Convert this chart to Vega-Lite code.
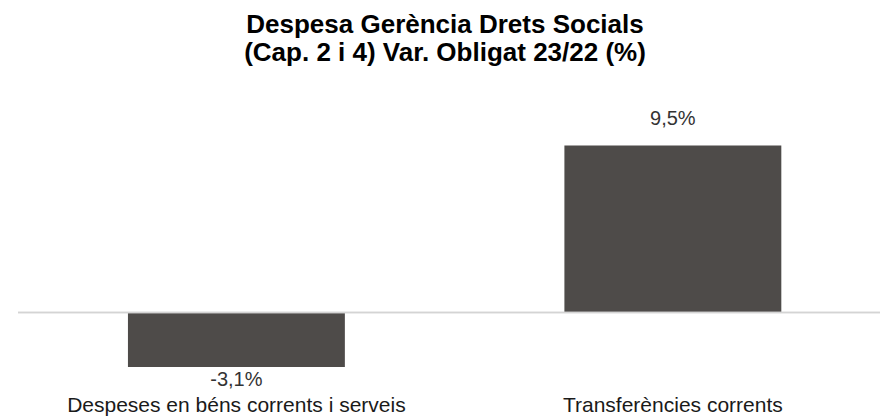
{
  "$schema": "https://vega.github.io/schema/vega-lite/v6.json",
  "autosize": {"type": "none"},
  "width": 862,
  "height": 246,
  "padding": {"left": 18, "top": 128, "right": 0, "bottom": 45},
  "background": "white",
  "title": {
    "text": ["Despesa Gerència Drets Socials", "(Cap. 2 i 4) Var. Obligat 23/22 (%)"],
    "font": "Liberation Sans",
    "fontSize": 26,
    "fontWeight": "bold",
    "color": "#000000",
    "anchor": "middle",
    "dx": -4,
    "offset": 43,
    "lineHeight": 28
  },
  "config": {"view": {"stroke": null}},
  "data": {
    "values": [
      {"categoria": "Despeses en béns corrents i serveis", "var": -3.1, "label": "-3,1%"},
      {"categoria": "Transferències corrents", "var": 9.5, "label": "9,5%"}
    ]
  },
  "encoding": {
    "x": {
      "field": "categoria",
      "type": "nominal",
      "sort": null,
      "scale": {"paddingInner": 0.503, "paddingOuter": 0.239, "align": 0.527},
      "axis": {
        "title": null,
        "domain": false,
        "ticks": false,
        "tickSize": 0,
        "labelAngle": 0,
        "labelFont": "Liberation Sans",
        "labelFontSize": 21,
        "labelColor": "#1a1a1a",
        "labelPadding": 20,
        "labelBaseline": "top",
        "labelLimit": 0
      }
    },
    "y": {
      "field": "var",
      "type": "quantitative",
      "scale": {"domain": [-3.5, 10.5], "nice": false, "zero": false},
      "axis": null
    }
  },
  "layer": [
    {
      "mark": {"type": "bar", "color": "#4e4b49"}
    },
    {
      "mark": {"type": "rule", "color": "#d4d4d4", "strokeWidth": 1.5},
      "encoding": {"x": null, "y": {"datum": 0, "type": "quantitative"}}
    },
    {
      "transform": [{"filter": "datum.var >= 0"}],
      "mark": {"type": "text", "font": "Liberation Sans", "fontSize": 20, "color": "#333333", "baseline": "alphabetic", "dy": -21},
      "encoding": {"text": {"field": "label"}}
    },
    {
      "transform": [{"filter": "datum.var < 0"}],
      "mark": {"type": "text", "font": "Liberation Sans", "fontSize": 20, "color": "#333333", "baseline": "top", "dy": 3},
      "encoding": {"text": {"field": "label"}}
    }
  ]
}
